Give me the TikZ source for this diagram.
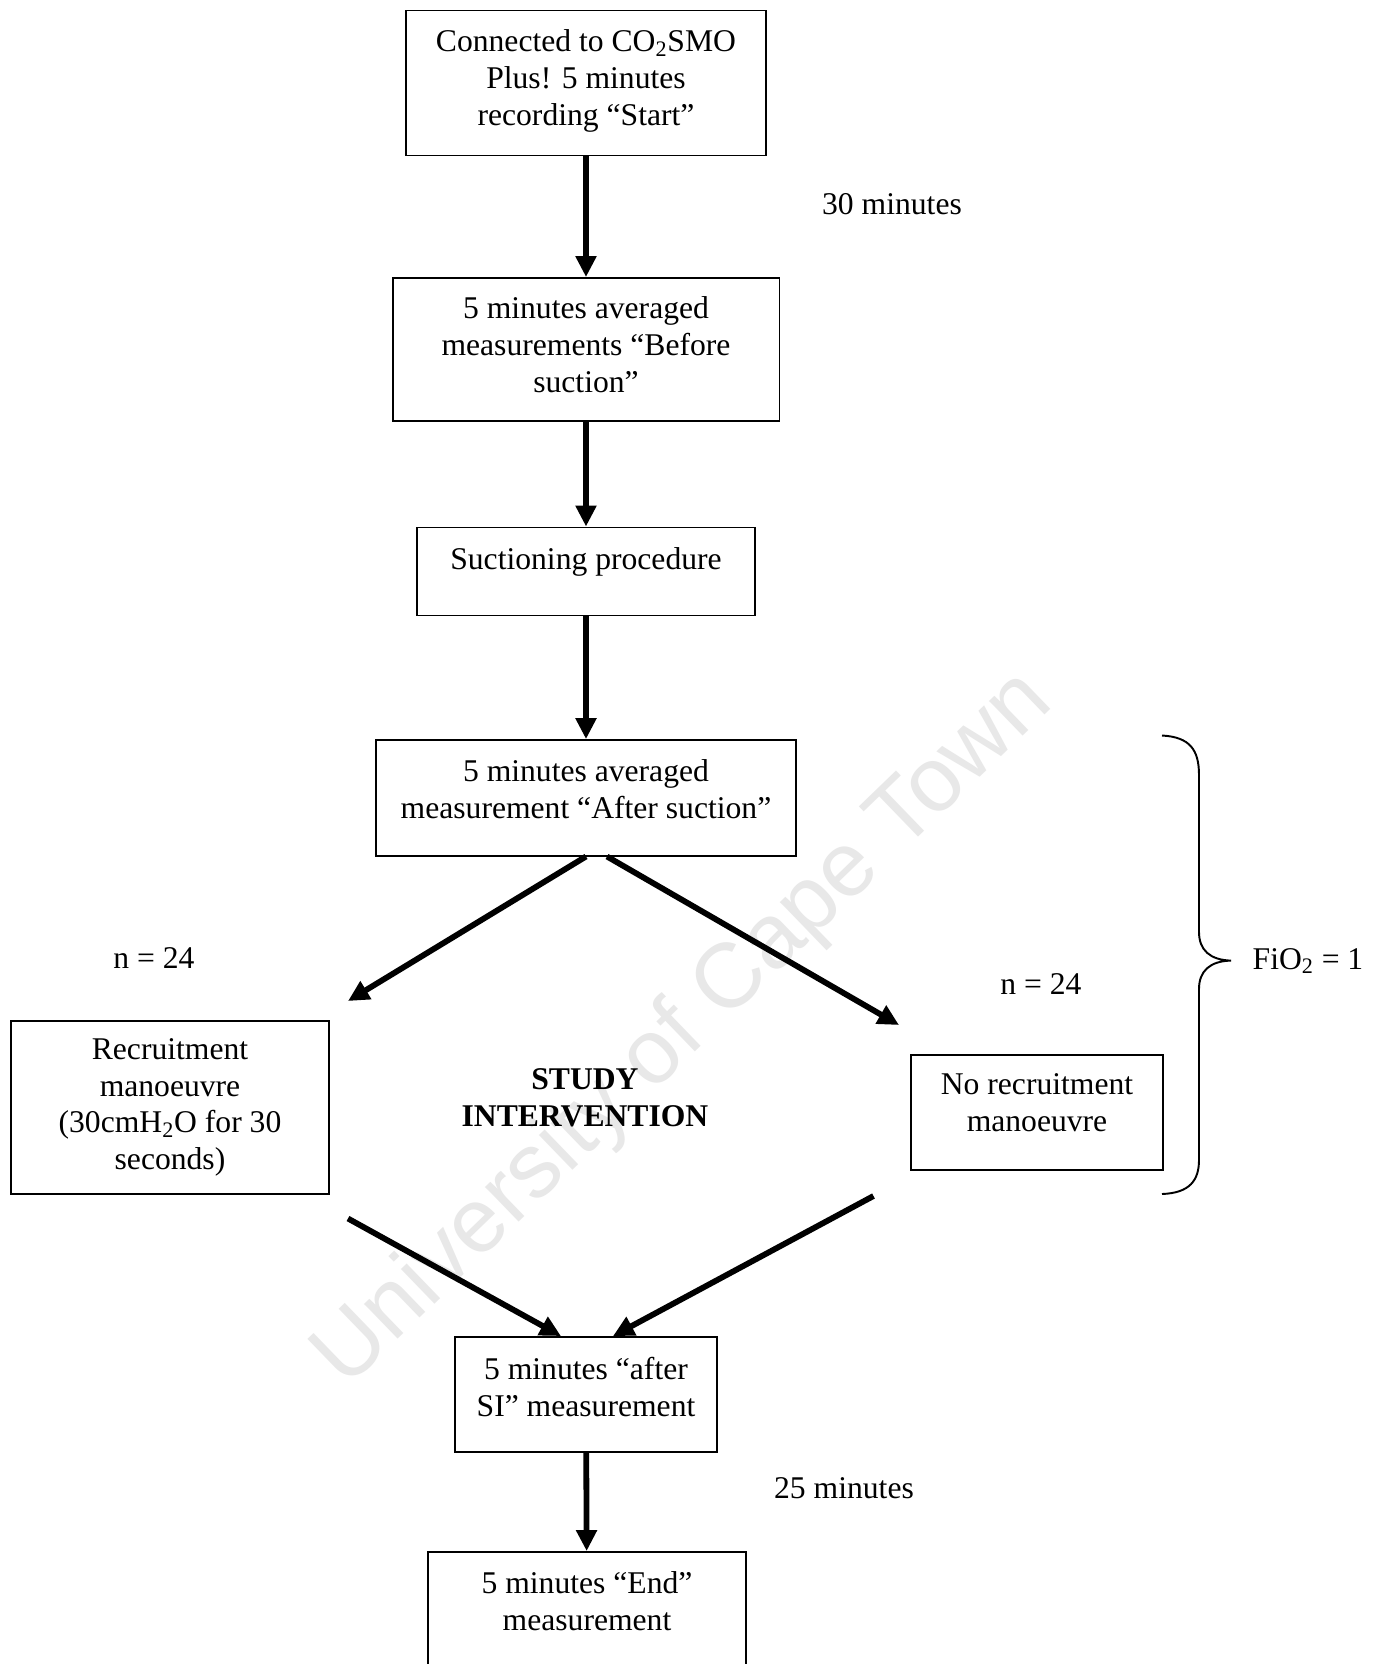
\documentclass[tikz,border=0pt]{standalone}
\usepackage{fontspec}
\setmainfont{Liberation Serif}
\setsansfont{Liberation Sans}
\usetikzlibrary{arrows.meta}

\begin{document}
\begin{tikzpicture}[x=0.02cm,y=-0.02cm,
  box/.style={draw,line width=1.1pt,align=center,inner sep=3pt,font=\fontsize{18}{21}\selectfont},
  flow/.style={line width=3.3pt,-{Triangle[length=0.42cm,width=0.40cm]}},
  lbl/.style={font=\fontsize{18}{21}\selectfont}]
\path[fill=white,use as bounding box] (0,0) rectangle (1382,1664);
% watermark
\node[font=\sffamily\fontsize{52}{52}\selectfont,text=black!9,rotate=44] (mark) at (684,1030) {University of Cape Town};

% boxes
\node[box,minimum width=7.19cm,minimum height=2.90cm,text depth=6pt] (start) at (586,83) {Connected to CO\textsubscript{2}SMO\\Plus! 5 minutes\\recording “Start”};
\node[box,minimum width=7.74cm,minimum height=2.86cm,text depth=6pt] (before) at (586,349.5) {5 minutes averaged\\measurements “Before\\suction”};
\node[box,minimum width=6.76cm,minimum height=1.76cm,text depth=15pt] (suction) at (586,571.5) {Suctioning procedure};
\node[box,minimum width=8.40cm,minimum height=2.31cm,text depth=10pt] (after) at (586,797.8) {5 minutes averaged\\measurement “After suction”};
\node[box,minimum width=6.37cm,minimum height=3.46cm,text depth=4pt] (rm) at (170,1107.5) {Recruitment\\manoeuvre\\(30cmH\textsubscript{2}O for 30\\seconds)};
\node[box,minimum width=5.05cm,minimum height=2.30cm,text depth=11pt] (norm) at (1037,1112.5) {No recruitment\\manoeuvre};
\node[box,minimum width=5.25cm,minimum height=2.30cm,text depth=9pt] (si) at (586,1394.5) {5 minutes “after\\SI” measurement};
\node[box,minimum width=6.36cm,minimum height=3.40cm,text depth=41pt] (stop) at (587,1637) {5 minutes “End”\\measurement};

% labels
\node[lbl] (t30) at (892,204) {30 minutes};
\node[lbl] (nl) at (154,958) {n = 24};
\node[lbl] (nr) at (1041,984) {n = 24};
\node[font=\bfseries\fontsize{18}{21}\selectfont,align=center] (study) at (585,1097.5) {STUDY\\INTERVENTION};
\node[lbl] (fio) at (1308,961) {FiO\textsubscript{2} = 1};
\node[lbl] (t25) at (844,1488) {25 minutes};

% arrows
\draw[flow] (start) -- (before);
\draw[flow] (before) -- (suction);
\draw[flow] (suction) -- (after);
\coordinate (afterR) at ([xshift=0.42cm]after.south);
\coordinate (rmTip) at (348,1001);
\coordinate (normTip) at (899,1025);
\draw[flow] (after.south) -- (rmTip);
\draw[flow] (afterR) -- (normTip);
\coordinate (rmOut) at (348,1218.5);
\coordinate (normOut) at (873.5,1196);
\draw[flow] (rmOut) -- ([xshift=-0.5cm]si.north);
\draw[flow] (normOut) -- ([xshift=0.54cm]si.north);
\draw[flow] (si) -- (stop);

% brace
\draw[line width=1.1pt] (1162,735.5) .. controls (1190,737) and (1199,750) .. (1199,775) -- (1199,932)
  .. controls (1199,950) and (1210,960) .. (1231,960.6) .. controls (1210,961) and (1199,971) .. (1199,989)
  -- (1199,1160) .. controls (1199,1180) and (1190,1193) .. (1162,1194);
\end{tikzpicture}
\end{document}
